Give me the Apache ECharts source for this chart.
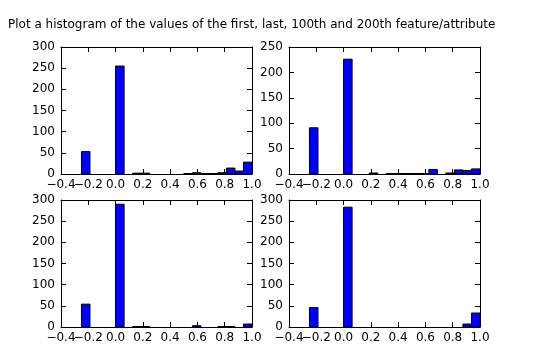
<!DOCTYPE html>
<html><head><meta charset="utf-8">
<script src="https://cdn.jsdelivr.net/npm/echarts@6/dist/echarts.min.js"></script>
<style>html,body{margin:0;padding:0;background:#fff}#c{width:540px;height:356px}</style>
</head><body><div id="c"></div>
<script>
const titleText = "Plot a histogram of the values of the first, last, 100th and 200th feature/attribute";
const binEdges = [-0.25,-0.1875,-0.125,-0.0625,0,0.0625,0.125,0.1875,0.25,0.3125,0.375,0.4375,0.5,0.5625,0.625,0.6875,0.75,0.8125,0.875,0.9375,1.0];
const countsFirst = [53,0,0,0,255,0,2,2,0,0,0,0,1,3,1,1,3,14,7,28];
const countsLast  = [91,0,0,0,226,0,0,2,0,1,1,1,1,1,9,0,2,8,7,10];
const counts100   = [54,0,0,0,290,0,1,1,0,0,0,0,0,3,0,0,1,1,0,7];
const counts200   = [46,0,0,0,283,0,0,0,0,0,0,0,0,0,0,0,0,0,7,33];
const xTicks = [-0.4,-0.2,0.0,0.2,0.4,0.6,0.8,1.0];
const yMaxes = [300,250,300,300];
const allCounts = [countsFirst,countsLast,counts100,counts200];

const gridPos = [
  {left:61, top:47, width:191, height:127},
  {left:289, top:47, width:191, height:127},
  {left:61, top:200, width:191, height:127},
  {left:289, top:200, width:191, height:127}
];
const font = {fontFamily:'DejaVu Sans', fontSize:12, color:'#000'};
const fmt = v => v.toFixed(1).replace('-', '\u2212');
const xMin = xTicks[0], xMax = xTicks[xTicks.length-1];
const grids=[], xAxes=[], yAxes=[], series=[];
gridPos.forEach((g,i)=>{
  grids.push(Object.assign({containLabel:false}, g));
  const line = {show:true, onZero:false, lineStyle:{color:'#000', width:1}};
  const tick = {show:true, inside:true, length:5, lineStyle:{color:'#000'}};
  const base = xAxes.length;
  xAxes.push({type:'value', gridIndex:i, position:'bottom', min:xMin, max:xMax, interval:0.2,
    axisLine:line, axisTick:tick, splitLine:{show:false},
    axisLabel:Object.assign({formatter:fmt, margin:5, showMinLabel:false, showMaxLabel:true}, font)});
  xAxes.push({type:'value', gridIndex:i, position:'top', min:xMin, max:xMax, interval:0.2,
    axisLine:line, axisTick:tick, splitLine:{show:false}, axisLabel:{show:false}});
  // companion axis carrying only the min label (kept separate so it does not suppress its neighbour)
  xAxes.push({type:'value', gridIndex:i, position:'bottom', offset:0, min:xMin, max:xMax, interval:0.2,
    axisLine:{show:false, onZero:false}, axisTick:{show:false}, splitLine:{show:false},
    axisLabel:Object.assign({formatter:v => Math.abs(v - xMin) < 1e-9 ? fmt(v) : '', margin:5, showMinLabel:true, showMaxLabel:false}, font)});
  yAxes.push({type:'value', gridIndex:i, position:'left', min:0, max:yMaxes[i], interval:50,
    axisLine:line, axisTick:tick, splitLine:{show:false},
    axisLabel:Object.assign({margin:6}, font)});
  yAxes.push({type:'value', gridIndex:i, position:'right', min:0, max:yMaxes[i], interval:50,
    axisLine:line, axisTick:tick, splitLine:{show:false}, axisLabel:{show:false}});
  const data = allCounts[i].map((c,k)=>[binEdges[k], binEdges[k+1], c]);
  series.push({type:'custom', xAxisIndex:base, yAxisIndex:2*i, data:data, clip:true,
    encode:{x:[0,1], y:2},
    renderItem:(params, api)=>{
      const c = api.value(2);
      if (!c) return null;
      const p0 = api.coord([api.value(0), 0]);
      const p1 = api.coord([api.value(1), c]);
      return {type:'rect', shape:{x:p0[0], y:p1[1], width:p1[0]-p0[0], height:p0[1]-p1[1]},
        style:{fill:'#0000ff', stroke:'#000', lineWidth:1}};
    }});
});
const chart = echarts.init(document.getElementById('c'), null, {renderer:'canvas'});
chart.setOption({
  animation:false,
  backgroundColor:'#fff',
  title:{text:titleText, left:3, top:14, textStyle:{fontFamily:'DejaVu Sans', fontSize:12, fontWeight:'normal', color:'#000'}},
  grid:grids, xAxis:xAxes, yAxis:yAxes, series:series
});
</script></body></html>
